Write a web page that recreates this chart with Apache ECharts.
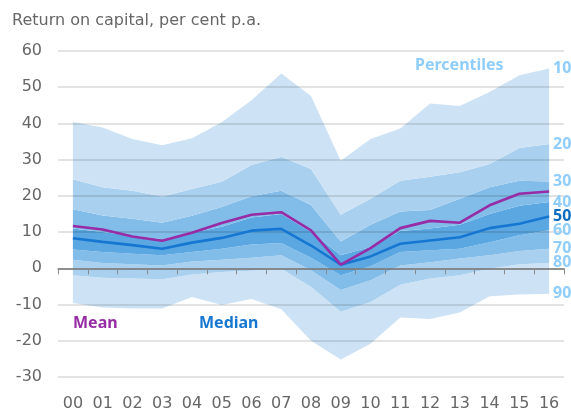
<!DOCTYPE html>
<html>
<head>
<meta charset="utf-8">
<script src="https://cdn.jsdelivr.net/npm/echarts@6/dist/echarts.min.js"></script>
<style>
html,body{margin:0;padding:0;background:#fff;}
#c{width:571px;height:412px;}
</style>
</head>
<body>
<div id="c"></div>
<script>
var categories = ['00','01','02','03','04','05','06','07','08','09','10','11','12','13','14','15','16'];
var p10 = [40.4, 38.9, 35.7, 34.0, 35.9, 40.3, 46.4, 53.8, 47.6, 29.7, 35.7, 38.6, 45.5, 44.8, 48.7, 53.3, 55.2];
var p20 = [24.6, 22.4, 21.4, 19.8, 21.9, 23.9, 28.5, 30.8, 27.4, 14.8, 19.2, 24.2, 25.3, 26.5, 28.8, 33.2, 34.3];
var p30 = [16.3, 14.6, 13.7, 12.6, 14.5, 16.9, 19.9, 21.4, 17.5, 7.4, 12.0, 15.7, 16.1, 19.2, 22.4, 24.2, 24.0];
var p40 = [11.0, 10.0, 9.0, 8.0, 9.8, 11.5, 14.0, 15.0, 10.0, 3.6, 5.9, 10.3, 11.0, 12.0, 15.0, 17.3, 18.3];
var median = [8.3, 7.3, 6.4, 5.4, 7.1, 8.4, 10.4, 10.9, 6.3, 1.0, 3.3, 6.8, 7.7, 8.6, 11.1, 12.3, 14.3];
var p60 = [5.2, 4.5, 4.0, 3.6, 4.5, 5.4, 6.6, 7.0, 2.9, -1.9, 0.6, 4.5, 5.0, 5.4, 7.2, 9.1, 10.5];
var p70 = [2.4, 1.5, 1.1, 0.8, 1.9, 2.4, 2.9, 3.6, -0.5, -6.0, -3.3, 0.8, 1.7, 2.7, 3.6, 4.8, 5.4];
var p80 = [-1.9, -2.6, -2.8, -3.0, -1.7, -1.0, -0.7, -0.1, -5.1, -12.0, -9.3, -4.5, -2.8, -1.9, -0.1, 1.1, 1.5];
var p90 = [-9.6, -10.8, -11.1, -11.1, -7.9, -10.1, -8.5, -11.3, -20.0, -25.2, -20.8, -13.6, -14.0, -12.2, -7.7, -7.2, -7.0];
var mean = [11.7, 10.7, 8.8, 7.6, 9.8, 12.5, 14.8, 15.5, 10.5, 1.0, 5.6, 11.1, 13.1, 12.6, 17.4, 20.6, 21.2];
var percentileLabels = ['10','20','30','40','50','60','70','80','90'];

var FONT = '"Noto Sans", "Open Sans", sans-serif';
var AXFONT = '"DejaVu Sans", sans-serif';
var C1 = '#cde3f5', C2 = '#a9d0ef', C3 = '#82bce8', C4 = '#5ba7e1';

function diff(a, b) { return a.map(function (v, i) { return +(v - b[i]).toFixed(2); }); }

var bandDefs = [
  { lo: p90, hi: p80, color: C1 },
  { lo: p80, hi: p70, color: C2 },
  { lo: p70, hi: p60, color: C3 },
  { lo: p60, hi: p40, color: C4 },
  { lo: p40, hi: p30, color: C3 },
  { lo: p30, hi: p20, color: C2 },
  { lo: p20, hi: p10, color: C1 }
];

var series = [{
  type: 'line', stack: 'b', stackStrategy: 'all', data: p90,
  symbol: 'none', lineStyle: { width: 0, opacity: 0 }, silent: true, z: 1
}];
bandDefs.forEach(function (b) {
  series.push({
    type: 'line', stack: 'b', stackStrategy: 'all', data: diff(b.hi, b.lo),
    symbol: 'none', lineStyle: { width: 0, opacity: 0 },
    areaStyle: { color: b.color, opacity: 1 }, silent: true, z: 1
  });
});
series.push({
  type: 'line', data: median, symbol: 'none', z: 10,
  lineStyle: { color: '#1677d2', width: 2.6 }
});
series.push({
  type: 'line', data: mean, symbol: 'none', z: 11,
  lineStyle: { color: '#982ba6', width: 2.6 }
});

var splitColors = [];
for (var i = 0; i < 10; i++) splitColors.push(i === 3 ? 'rgba(0,0,0,0.5)' : 'rgba(0,0,0,0.15)');

var chart = echarts.init(document.getElementById('c'), null, { renderer: 'canvas' });
chart.setOption({
  animation: false,
  backgroundColor: '#fff',
  textStyle: { fontFamily: FONT },
  grid: { left: 58, right: 7, top: 51, bottom: 35, containLabel: false },
  xAxis: {
    type: 'category', data: categories, boundaryGap: true,
    axisLine: { lineStyle: { color: '#8a8a8a', width: 1.5 } },
    axisTick: { show: true, length: 6, lineStyle: { color: '#8a8a8a', width: 1 } },
    axisLabel: { color: '#666', fontSize: 16, margin: 19, fontFamily: AXFONT },
    z: 5
  },
  yAxis: {
    type: 'value', min: -30, max: 60, interval: 10,
    axisLine: { show: false }, axisTick: { show: false },
    axisLabel: { color: '#666', fontSize: 16, margin: 16, fontFamily: AXFONT },
    splitLine: { show: true, lineStyle: { color: splitColors, width: 1.5 } },
    z: 5
  },
  series: series
});

var graphics = [{
  type: 'text', x: 12, y: 21,
  style: { text: 'Return on capital, per cent p.a.', fill: '#666', font: '16px ' + AXFONT, textVerticalAlign: 'middle' }
}];
var boundaries = [p10, p20, p30, p40, median, p60, p70, p80, p90];
var last = categories.length - 1;
boundaries.forEach(function (arr, k) {
  var pt = chart.convertToPixel({ gridIndex: 0 }, [last, arr[last]]);
  graphics.push({
    type: 'text', x: pt[0] + 4, y: pt[1],
    style: {
      text: percentileLabels[k], fill: k === 4 ? '#0b6cc0' : '#8fcdfb',
      font: 'bold 16px ' + FONT, textVerticalAlign: 'middle', textAlign: 'left'
    }, z: 20
  });
});
graphics.push({ type: 'text', x: 415, y: 65,
  style: { text: 'Percentiles', fill: '#8fcdfb', font: 'bold 16px ' + FONT, textVerticalAlign: 'middle' }, z: 20 });
graphics.push({ type: 'text', x: 73, y: 323,
  style: { text: 'Mean', fill: '#982ba6', font: 'bold 16px ' + FONT, textVerticalAlign: 'middle' }, z: 20 });
graphics.push({ type: 'text', x: 199, y: 323,
  style: { text: 'Median', fill: '#1677d2', font: 'bold 16px ' + FONT, textVerticalAlign: 'middle' }, z: 20 });
chart.setOption({ graphic: graphics });
</script>
</body>
</html>
